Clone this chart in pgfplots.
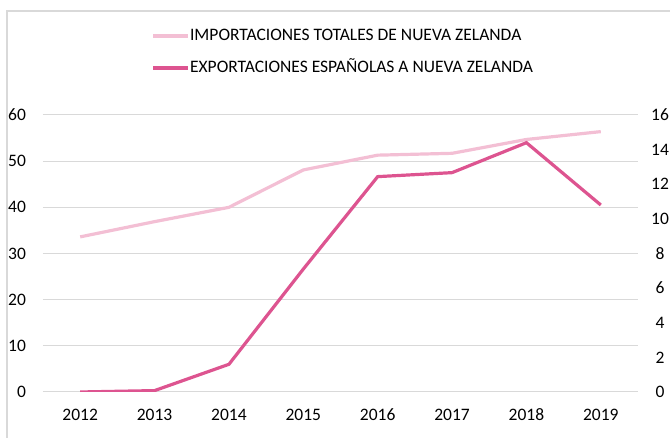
\documentclass[border=0pt]{standalone}
\usepackage{fontspec}
\setmainfont{Carlito}
\usepackage{pgfplots}
\pgfplotsset{compat=1.18}
\definecolor{lightpink}{HTML}{F3BFD4}
\definecolor{darkpink}{HTML}{DD5490}
\definecolor{gridgray}{HTML}{D9D9D9}
\begin{document}
\fontsize{17.5}{21}\selectfont
\begin{tikzpicture}[x=1pt,y=1pt]
\pgfplotsset{
  base/.style={scale only axis, width=595pt, height=277pt, at={(43pt,46pt)}, anchor=south west,
    xmin=-0.5, xmax=7.5, axis line style={draw=none}, tick style={draw=none}, major tick length=0pt,
    /pgf/number format/assume math mode=true,
    tick label style={font=\fontsize{17.5}{21}\selectfont, text=black}},
}
\draw[gridgray, line width=1.5pt] (7,-20) -- (7,427) -- (700,427);
\begin{axis}[base, ymin=0, ymax=60, ytick={0,10,...,60}, ymajorgrids,
  grid style={gridgray, line width=1pt},
  xtick={0,...,7}, xticklabels={2012,2013,2014,2015,2016,2017,2018,2019},
  xticklabel style={anchor=center, yshift=-22.7pt},
  yticklabel style={anchor=east, xshift=-11pt},
  legend image code/.code={\draw[#1] (0pt,0pt) -- (35pt,0pt);},
  legend cell align=left,
  legend style={draw=none, fill=none, inner sep=0pt, outer sep=0pt, row sep=16pt, column sep=0pt,
    font=\fontsize{17.5}{21}\selectfont,
    at={(axis description cs:0.183,1.314)}, anchor=north west,
    nodes={inner sep=0pt, text height=12pt, text depth=4pt}},
]
\addplot[lightpink, line width=3.2pt] coordinates {(0,33.6)(1,36.9)(2,40.0)(3,48.1)(4,51.3)(5,51.7)(6,54.7)(7,56.4)};
\addlegendentry{IMPORTACIONES TOTALES DE NUEVA ZELANDA}
\addlegendimage{darkpink, line width=3.2pt}
\addlegendentry{EXPORTACIONES ESPAÑOLAS A NUEVA ZELANDA}
\end{axis}
\begin{axis}[base, ymin=0, ymax=16, ytick={0,2,...,16}, axis y line*=right, hide x axis,
  yticklabel style={anchor=center, xshift=22pt}]
\addplot[darkpink, line width=3.2pt] coordinates {(0,0)(1,0.08)(2,1.6)(3,7.1)(4,12.44)(5,12.67)(6,14.4)(7,10.8)};
\end{axis}
\pgfresetboundingbox
\path[use as bounding box] (0,0) rectangle (670,438);
\end{tikzpicture}
\end{document}
